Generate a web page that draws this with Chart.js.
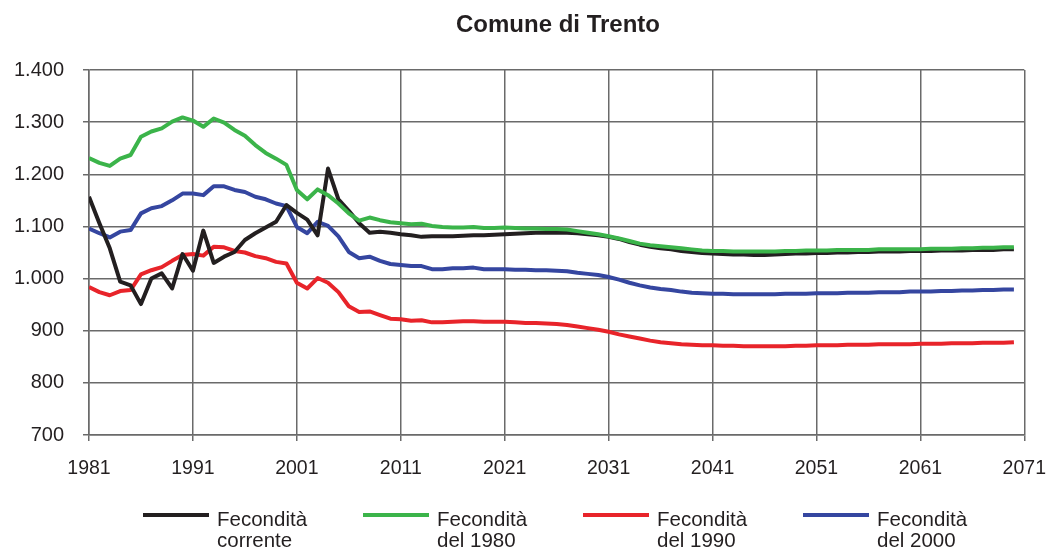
<!DOCTYPE html>
<html>
<head>
<meta charset="utf-8">
<title>Comune di Trento</title>
<script src="https://cdn.jsdelivr.net/npm/chart.js@4.4.1/dist/chart.umd.min.js"></script>
<style>
html, body { margin: 0; padding: 0; background: #fff; }
#wrap { position: relative; width: 1062px; height: 551px; font-family: "Liberation Sans", Arial, sans-serif; color: #231f20; }
#chart { position: absolute; left: 0; top: 0; }
#title { position: absolute; left: 358px; top: 12px; width: 400px; text-align: center; font-weight: bold; font-size: 24px; line-height: 24px; }
.item { position: absolute; top: 508px; }
.item .swatch { position: absolute; left: 0; top: 5px; width: 66px; height: 4px; }
.item .txt { position: absolute; left: 74px; top: 0; font-size: 20.5px; line-height: 21px; white-space: nowrap; }
</style>
</head>
<body>
<div id="wrap">
  <canvas id="chart" width="1062" height="551"></canvas>
  <div id="title">Comune di Trento</div>
  <div id="legend"></div>
</div>
<script>
// anni 1981-2070
var years = [];
for (var y = 1981; y <= 2070; y++) years.push(y);

// fecondità corrente
var corrente = [
  1157, 1106, 1058, 994, 987, 951, 1000, 1010, 981, 1047,
  1015, 1092, 1030, 1042, 1051, 1074, 1087, 1098, 1109, 1141,
  1126, 1113, 1083, 1211, 1152, 1130, 1106, 1088, 1090, 1088,
  1085, 1083, 1080, 1081, 1081, 1081, 1082, 1083, 1083, 1084,
  1085, 1086, 1087, 1088, 1088, 1088, 1088, 1087, 1085, 1083,
  1080, 1076, 1070, 1065, 1061, 1058, 1056, 1053, 1051, 1049,
  1048, 1047, 1046, 1046, 1045, 1045, 1046, 1047, 1048, 1048,
  1049, 1049, 1050, 1050, 1051, 1051, 1052, 1052, 1052, 1053,
  1053, 1053, 1054, 1054, 1054, 1055, 1055, 1055, 1056, 1056
];

// fecondità del 1980
var del1980 = [
  1231, 1222, 1216, 1230, 1237, 1272, 1282, 1288, 1301, 1309,
  1303, 1291, 1307, 1299, 1285, 1274, 1256, 1241, 1230, 1218,
  1170, 1152, 1171, 1160, 1144, 1125, 1111, 1117, 1112, 1108,
  1106, 1104, 1105, 1101, 1099, 1098, 1098, 1099, 1097, 1097,
  1098, 1097, 1096, 1096, 1095, 1095, 1094, 1091, 1088, 1085,
  1081, 1077, 1072, 1067, 1064, 1062, 1060, 1058, 1056, 1054,
  1053, 1053, 1052, 1052, 1052, 1052, 1052, 1053, 1053, 1054,
  1054, 1054, 1055, 1055, 1055, 1055, 1056, 1056, 1056, 1056,
  1056, 1057, 1057, 1057, 1058, 1058, 1059, 1059, 1060, 1060
];

// fecondità del 1990
var del1990 = [
  984, 974, 968, 976, 978, 1008, 1016, 1022, 1034, 1045,
  1047, 1044, 1061, 1060, 1053, 1050, 1043, 1039, 1032, 1029,
  992, 981, 1001, 992, 974, 947, 936, 937, 930, 923,
  922, 919, 920, 916, 916, 917, 918, 918, 917, 917,
  917, 916, 915, 915, 914, 913, 911, 908, 905, 902,
  898, 893, 889, 885, 881, 878, 876, 874, 873, 872,
  872, 871, 871, 870, 870, 870, 870, 870, 871, 871,
  872, 872, 872, 873, 873, 873, 874, 874, 874, 874,
  875, 875, 875, 876, 876, 876, 877, 877, 877, 878
];

// fecondità del 2000
var del2000 = [
  1096, 1087, 1079, 1090, 1093, 1125, 1135, 1139, 1150, 1163,
  1163, 1160, 1177, 1177, 1170, 1166, 1157, 1152, 1144, 1139,
  1099, 1087, 1109, 1101, 1081, 1051, 1039, 1042, 1034, 1028,
  1026, 1024, 1024, 1018, 1018, 1020, 1020, 1021, 1018, 1018,
  1018, 1017, 1017, 1016, 1016, 1015, 1014, 1011, 1009, 1007,
  1003, 998, 992, 987, 983, 980, 978, 975, 973, 972,
  971, 971, 970, 970, 970, 970, 970, 971, 971, 971,
  972, 972, 972, 973, 973, 973, 974, 974, 974, 975,
  975, 975, 976, 976, 977, 977, 978, 978, 979, 979
];

var seriesNames = [["Fecondità", "corrente"], ["Fecondità", "del 1980"], ["Fecondità", "del 1990"], ["Fecondità", "del 2000"]];
var seriesColors = ["#231f20", "#3bb44a", "#e8242a", "#3546a0"];
var seriesData = [corrente, del1980, del1990, del2000];
var drawOrder = [1, 0, 3, 2]; // verde sopra, rosso sotto

var gridColor = "#6a6a6a";
var fontFamily = '"Liberation Sans", Arial, sans-serif';

function toPoints(values) {
    return values.map(function(v, i) { return { x: years[i], y: v }; });
}

function formatThousands(v) {
    return String(v).replace(/\B(?=(\d{3})+(?!\d))/g, ".");
}

var datasets = seriesData.map(function(values, i) {
    return {
        label: seriesNames[i].join(" "),
        data: toPoints(values),
        borderColor: seriesColors[i],
        backgroundColor: seriesColors[i],
        order: drawOrder[i]
    };
});

// legenda in HTML
var legend = document.getElementById("legend");
seriesNames.forEach(function(name, i) {
    var item = document.createElement("div");
    item.className = "item";
    item.style.left = (143 + 220 * i) + "px";
    item.innerHTML = '<div class="swatch" style="background:' + seriesColors[i] + '"></div>' +
        '<div class="txt">' + name[0] + '<br>' + name[1] + '</div>';
    legend.appendChild(item);
});

var ctx = document.getElementById("chart").getContext("2d");
var myChart = new Chart(ctx, {
    type: "line",
    data: { datasets: datasets },
    options: {
        responsive: false,
        animation: false,
        layout: { padding: { top: 70, right: 36, left: 0, bottom: 0 } },
        plugins: {
            legend: { display: false },
            title: { display: false },
            tooltip: { enabled: false }
        },
        elements: {
            point: { radius: 0 },
            line: { borderWidth: 4, tension: 0, borderJoinStyle: "round" }
        },
        scales: {
            x: {
                type: "linear",
                min: 1981,
                max: 2071,
                afterFit: function(scale) { scale.height = 116; },
                ticks: {
                    stepSize: 10,
                    autoSkip: false,
                    maxRotation: 0,
                    padding: 16,
                    color: "#231f20",
                    font: { family: fontFamily, size: 19.5 },
                    callback: function(v) { return String(v); }
                },
                grid: { color: gridColor, lineWidth: 1.5, tickLength: 6, tickColor: gridColor },
                border: { color: gridColor, width: 1.5 }
            },
            y: {
                min: 700,
                max: 1400,
                afterFit: function(scale) { scale.width = 89; },
                ticks: {
                    stepSize: 100,
                    padding: 19,
                    color: "#231f20",
                    font: { family: fontFamily, size: 20 },
                    callback: function(v) { return formatThousands(v); }
                },
                grid: { color: gridColor, lineWidth: 1.5, tickLength: 6, tickColor: gridColor },
                border: { color: gridColor, width: 1.5 }
            }
        }
    }
});
</script>
</body>
</html>
